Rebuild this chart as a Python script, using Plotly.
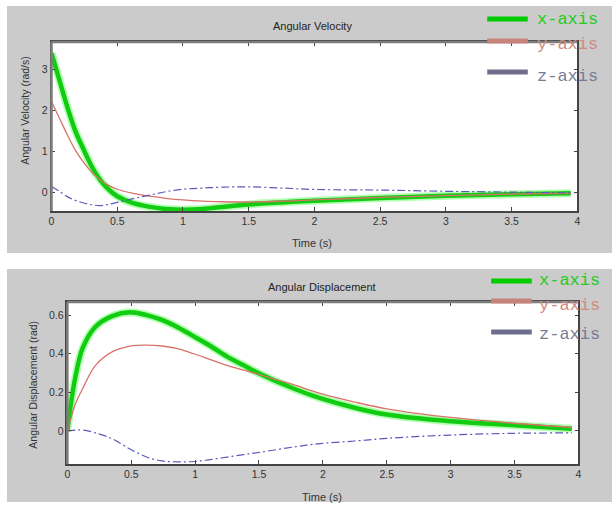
import plotly.graph_objects as go

# ---------------- data ----------------
t_vel = [0, 0.06, 0.12, 0.18, 0.25, 0.31, 0.37, 0.43, 0.5, 0.62, 0.75, 0.87,
         1.0, 1.15, 1.3, 1.5, 1.75, 2.0, 2.5, 3.0, 3.5, 3.95]
vel_x = [3.39, 2.73, 2.08, 1.5, 1.0, 0.6, 0.3, 0.08, -0.1, -0.27, -0.36, -0.41,
         -0.43, -0.41, -0.36, -0.3, -0.25, -0.21, -0.145, -0.09, -0.05, -0.03]
vel_y = [2.2, 1.8, 1.4, 1.03, 0.7, 0.47, 0.3, 0.17, 0.07, -0.03, -0.1, -0.15,
         -0.19, -0.22, -0.235, -0.24, -0.22, -0.19, -0.13, -0.085, -0.05, -0.03]
vel_z = [0.14, 0.02, -0.11, -0.2, -0.27, -0.31, -0.33, -0.3, -0.25, -0.16, -0.07, 0.01,
         0.07, 0.1, 0.12, 0.13, 0.1, 0.065, 0.05, 0.02, 0.0, -0.02]

t_disp = [0, 0.03, 0.06, 0.12, 0.22, 0.35, 0.49, 0.62, 0.74, 0.87, 0.99, 1.12,
          1.25, 1.38, 1.51, 1.77, 1.98, 2.25, 2.5, 3.0, 3.5, 3.95]
disp_x = [0, 0.15, 0.27, 0.43, 0.54, 0.595, 0.615, 0.6, 0.575, 0.535, 0.49, 0.44,
          0.385, 0.34, 0.295, 0.22, 0.17, 0.12, 0.085, 0.05, 0.03, 0.012]
disp_y = [0, 0.07, 0.135, 0.22, 0.34, 0.41, 0.44, 0.445, 0.44, 0.425, 0.4, 0.37,
          0.34, 0.315, 0.29, 0.24, 0.195, 0.15, 0.115, 0.07, 0.04, 0.018]
disp_z = [0, 0.002, 0.004, 0.005, -0.01, -0.04, -0.093, -0.135, -0.155, -0.16, -0.158, -0.148,
          -0.135, -0.122, -0.11, -0.083, -0.065, -0.052, -0.038, -0.021, -0.012, -0.01]

series_names = ["x-axis", "y-axis", "z-axis"]
x_ticks = [0, 0.5, 1, 1.5, 2, 2.5, 3, 3.5, 4]
x_ticktext = ["0", "0.5", "1", "1.5", "2", "2.5", "3", "3.5", "4"]
vel_ticks = [0, 1, 2, 3]
disp_ticks = [0, 0.2, 0.4, 0.6]
disp_ticktext = ["0", "0.2", "0.4", "0.6"]

W, H = 612, 505
def px(x):
    return x / W
def py(y):
    return 1 - y / H

FONT = "Liberation Sans, Arial, sans-serif"
MONO = "Liberation Mono, Courier New, monospace"
line_colors = ["#11cc11", "#d9736a", "#5a5ab8"]
legend_line_colors = ["#00cc00", "#c8837a", "#6e6e8c"]
legend_text_colors = ["#22cc22", "#d08a80", "#7a7a96"]

fig = go.Figure()

def add_set(t, xs, ys, zs, xa, ya):
    fig.add_trace(go.Scatter(x=t, y=xs, mode="lines", xaxis=xa, yaxis=ya,
                             line=dict(color="rgba(120,255,120,0.55)", width=8, shape="spline"),
                             showlegend=False, hoverinfo="skip"))
    fig.add_trace(go.Scatter(x=t, y=xs, mode="lines", xaxis=xa, yaxis=ya, name=series_names[0],
                             line=dict(color=line_colors[0], width=4.5, shape="spline"),
                             showlegend=False))
    fig.add_trace(go.Scatter(x=t, y=ys, mode="lines", xaxis=xa, yaxis=ya, name=series_names[1],
                             line=dict(color=line_colors[1], width=1.3, shape="spline"),
                             showlegend=False))
    fig.add_trace(go.Scatter(x=t, y=zs, mode="lines", xaxis=xa, yaxis=ya, name=series_names[2],
                             line=dict(color=line_colors[2], width=1.2, shape="spline",
                                       dash="8px,3px,2px,3px"),
                             showlegend=False))

add_set(t_vel, vel_x, vel_y, vel_z, "x", "y")
add_set(t_disp, disp_x, disp_y, disp_z, "x2", "y2")

axis_common = dict(showline=True, mirror="ticks", linecolor="#444", linewidth=1.5,
                   ticks="inside", ticklen=4, tickcolor="#444", tickwidth=1,
                   showgrid=False, zeroline=False,
                   tickfont=dict(family=FONT, size=10.5, color="#333"))

fig.update_layout(
    width=W, height=H,
    margin=dict(l=0, r=0, t=0, b=0),
    paper_bgcolor="white", plot_bgcolor="white",
    showlegend=False,
    xaxis=dict(domain=[px(49), px(580)], range=[0, 4], anchor="y",
               tickvals=x_ticks, ticktext=x_ticktext, **axis_common),
    yaxis=dict(domain=[py(211), py(42)], range=[-0.46, 3.66], anchor="x",
               tickvals=vel_ticks, **axis_common),
    xaxis2=dict(domain=[px(65), px(581)], range=[0, 4], anchor="y2",
                tickvals=x_ticks, ticktext=x_ticktext, **axis_common),
    yaxis2=dict(domain=[py(464), py(302)], range=[-0.171, 0.668], anchor="x2",
                tickvals=disp_ticks, ticktext=disp_ticktext, **axis_common),
)

shapes = [
    # gray panels
    dict(type="rect", xref="paper", yref="paper", x0=px(4), x1=1.01, y0=py(253), y1=py(6),
         fillcolor="#cbcbcb", line=dict(width=0), layer="below"),
    dict(type="rect", xref="paper", yref="paper", x0=px(4), x1=1.01, y0=py(502), y1=py(269),
         fillcolor="#cbcbcb", line=dict(width=0), layer="below"),
    # white plot areas
    dict(type="rect", xref="x domain", yref="y domain", x0=0, x1=1, y0=0, y1=1,
         fillcolor="white", line=dict(width=0), layer="below"),
    dict(type="rect", xref="x2 domain", yref="y2 domain", x0=0, x1=1, y0=0, y1=1,
         fillcolor="white", line=dict(width=0), layer="below"),
]
# thicker gray top/left frame edges as in the original figure
for xr, yr in (("x domain", "y domain"), ("x2 domain", "y2 domain")):
    shapes.append(dict(type="line", xref=xr, yref=yr, x0=0, x1=1, y0=1, y1=1,
                       line=dict(color="#7d7d7d", width=2.5), layer="above"))
    shapes.append(dict(type="line", xref=xr, yref=yr, x0=0, x1=0, y0=0, y1=1,
                       line=dict(color="#7d7d7d", width=2.5), layer="above"))

def ann(text, x, y, size, color, angle=0, family=FONT, xanchor="center"):
    return dict(text=text, x=px(x), y=py(y), xref="paper", yref="paper",
                xanchor=xanchor, yanchor="middle", showarrow=False, textangle=angle,
                font=dict(family=family, size=size, color=color))

annotations = [
    ann("Angular Velocity", 313, 26, 11, "#222"),
    ann("Angular Displacement", 322, 287, 11, "#222"),
    ann("Time (s)", 312, 243, 11, "#333"),
    ann("Time (s)", 322, 497, 11, "#333"),
    ann("Angular Velocity (rad/s)", 22, 110, 10.5, "#333", angle=-90),
    ann("Angular Displacement (rad)", 30, 385, 10.5, "#333", angle=-90),
]

# legends (one per panel)
legend_specs = [
    dict(x0=489, x1=530, tx=537, lines=[19, 41, 72], texts=[19, 45, 76]),
    dict(x0=493, x1=534, tx=539, lines=[281, 301, 332], texts=[280, 305, 334]),
]
for spec in legend_specs:
    for i, name in enumerate(series_names):
        ly = spec["lines"][i]
        shapes.append(dict(type="line", xref="paper", yref="paper",
                           x0=px(spec["x0"]), x1=px(spec["x1"]), y0=py(ly), y1=py(ly),
                           line=dict(color=legend_line_colors[i], width=5), layer="above"))
        annotations.append(ann(name, spec["tx"], spec["texts"][i], 17,
                               legend_text_colors[i], family=MONO, xanchor="left"))

fig.update_layout(shapes=shapes, annotations=annotations)

fig.write_html("out.html", config={"displayModeBar": False},
               post_script="document.documentElement.style.overflow='hidden';"
                           "document.body.style.overflow='hidden';"
                           "document.body.style.margin='0';document.body.style.padding='0';")
